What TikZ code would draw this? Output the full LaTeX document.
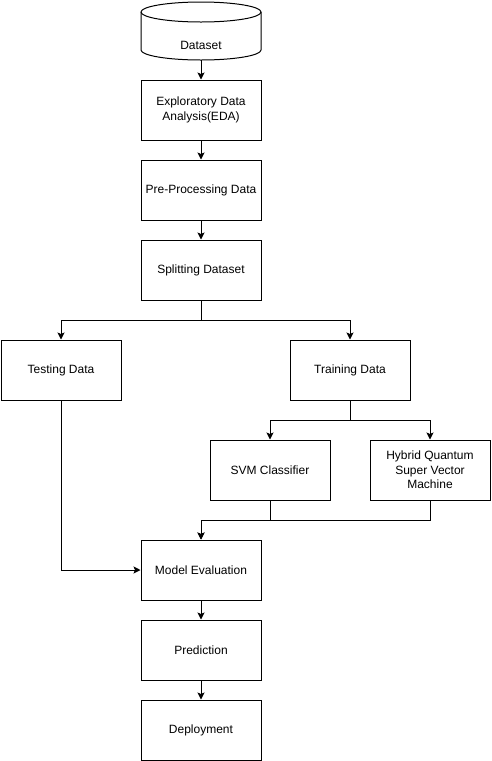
\documentclass[tikz,border=0pt]{standalone}
\usepackage{fontspec}
\setmainfont{Liberation Sans}
\usetikzlibrary{arrows.meta}
\begin{document}
\begin{tikzpicture}[x=1pt,y=-1pt,
  proc/.style={draw,line width=1pt,minimum width=120pt,minimum height=60pt,inner sep=2pt,align=center,
    font=\fontsize{12}{14.5}\selectfont},
  conn/.style={line width=1pt,-{Stealth[length=7pt,width=7pt,inset=1.5pt]}}]
\useasboundingbox (0,0) rectangle (491,761);
% cylinder
\draw[line width=1pt,fill=white] (141,12) -- (141,50) arc[start angle=180,end angle=0,x radius=60,y radius=10] -- (261,12)
  arc[start angle=0,end angle=-180,x radius=60,y radius=10];
\draw[line width=1pt] (141,12) arc[start angle=180,end angle=0,x radius=60,y radius=10];
\node[minimum width=120pt,minimum height=58pt,inner sep=0pt] (dataset) at (201,31) {};
\node[font=\fontsize{12}{14.5}\selectfont] (datasettext) at (201,45) {Dataset};
\node[proc] (eda) at (201,110) {Exploratory Data\\Analysis(EDA)};
\node[proc] (pre) at (201,190) {Pre-Processing Data};
\node[proc] (split) at (201,270) {Splitting Dataset};
\node[proc] (test) at (61,370) {Testing Data};
\node[proc] (train) at (350,370) {Training Data};
\node[proc] (svm) at (270,470) {SVM Classifier};
\node[proc] (hyb) at (430,470) {Hybrid Quantum\\Super Vector\\Machine};
\node[proc] (eval) at (201,570) {Model Evaluation};
\node[proc] (pred) at (201,650) {Prediction};
\node[proc] (dep) at (201,730) {Deployment};
\draw[conn] (dataset.south) -- (eda.north);
\draw[conn] (eda) -- (pre);
\draw[conn] (pre) -- (split);
\draw[conn] (split.south) -- ++(0,20) -| (test.north);
\draw[conn] (split.south) -- ++(0,20) -| (train.north);
\draw[conn] (train.south) -- ++(0,20) -| (svm.north);
\draw[conn] (train.south) -- ++(0,20) -| (hyb.north);
\draw[conn] (svm.south) -- ++(0,20) -| (eval.north);
\draw[conn] (hyb.south) -- ++(0,20) -| (eval.north);
\draw[conn] (test.south) |- (eval.west);
\draw[conn] (eval) -- (pred);
\draw[conn] (pred) -- (dep);
\end{tikzpicture}
\end{document}
